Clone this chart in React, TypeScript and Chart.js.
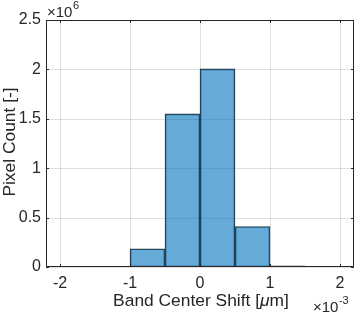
import React, { useEffect, useRef } from 'react';
import { Chart, registerables } from 'chart.js';
Chart.register(...registerables);

const binCenters = [-0.00075, -0.00025, 0.00025, 0.00075, 0.00125];
const pixelCounts = [185000, 1550000, 2005000, 410000, 13000];
const xTicks = [-0.002, -0.001, 0, 0.001, 0.002];
const yTicks = [0, 500000, 1000000, 1500000, 2000000, 2500000];
const xTitle = 'Band Center Shift [';
const yTitle = 'Pixel Count [-]';

const AX = '#262626';
const FONT = '"Liberation Sans", Arial, sans-serif';
const TICK = 16;
const LBL = 17.4;

const gridPlugin = {
  id: 'mgrid',
  beforeDatasetsDraw(chart: any) {
    const { ctx, chartArea: a, scales } = chart;
    ctx.save();
    ctx.strokeStyle = 'rgba(38,38,38,0.15)';
    ctx.lineWidth = 1;
    ctx.beginPath();
    xTicks.forEach((v) => {
      const p = Math.round(scales.x.getPixelForValue(v)) + 0.5;
      ctx.moveTo(p, a.top); ctx.lineTo(p, a.bottom);
    });
    yTicks.forEach((v) => {
      const p = Math.round(scales.y.getPixelForValue(v)) + 0.5;
      ctx.moveTo(a.left, p); ctx.lineTo(a.right, p);
    });
    ctx.stroke();
    ctx.restore();
  },
};

const decorPlugin = {
  id: 'decor',
  afterDraw(chart: any) {
    const { ctx, chartArea: a, scales } = chart;
    const xs = scales.x, ys = scales.y;
    ctx.save();
    ctx.strokeStyle = AX;
    ctx.lineWidth = 1;
    ctx.beginPath();
    ctx.rect(a.left + 0.5, a.top + 0.5, a.right - a.left - 1, a.bottom - a.top - 1);
    ctx.stroke();
    const tl = 3;
    ctx.beginPath();
    xTicks.forEach((v) => {
      const p = Math.round(xs.getPixelForValue(v)) + 0.5;
      ctx.moveTo(p, a.bottom); ctx.lineTo(p, a.bottom - tl);
      ctx.moveTo(p, a.top); ctx.lineTo(p, a.top + tl);
    });
    yTicks.forEach((v) => {
      const p = Math.round(ys.getPixelForValue(v)) + 0.5;
      ctx.moveTo(a.left, p); ctx.lineTo(a.left + tl, p);
      ctx.moveTo(a.right, p); ctx.lineTo(a.right - tl, p);
    });
    ctx.stroke();
    ctx.fillStyle = AX;
    ctx.textBaseline = 'alphabetic';
    ctx.textAlign = 'left';
    ctx.font = `15px ${FONT}`;
    ctx.fillText('\u00d710', 47, 17);
    const w1 = ctx.measureText('\u00d710').width;
    ctx.font = `11px ${FONT}`;
    ctx.fillText('6', 47 + w1 + 0.5, 9);
    ctx.font = `15px ${FONT}`;
    ctx.fillText('\u00d710', 313, 312);
    const w2 = ctx.measureText('\u00d710').width;
    ctx.font = `11px ${FONT}`;
    ctx.fillText('-3', 313 + w2 + 0.5, 304);
    // x title
    ctx.font = `${LBL}px ${FONT}`;
    const wA = ctx.measureText(xTitle).width;
    ctx.font = `italic ${LBL}px ${FONT}`;
    const wB = ctx.measureText('\u03bc').width;
    ctx.font = `${LBL}px ${FONT}`;
    const wC = ctx.measureText('m]').width;
    const total = wA + wB + wC;
    const x0 = 201 - total / 2;
    const yb = 306;
    ctx.fillText(xTitle, x0, yb);
    ctx.font = `italic ${LBL}px ${FONT}`;
    ctx.fillText('\u03bc', x0 + wA, yb);
    ctx.font = `${LBL}px ${FONT}`;
    ctx.fillText('m]', x0 + wA + wB, yb);
    // y title
    ctx.translate(15, 142);
    ctx.rotate(-Math.PI / 2);
    ctx.textAlign = 'center';
    ctx.fillText(yTitle, 0, 0);
    ctx.restore();
  },
};

export default function App() {
  const ref = useRef<HTMLCanvasElement>(null);
  useEffect(() => {
    document.body.style.margin = '0';
    const chart = new Chart(ref.current!, {
      type: 'bar',
      data: {
        datasets: [
          {
            data: binCenters.map((x, i) => ({ x, y: pixelCounts[i] })),
            backgroundColor: 'rgba(0,114,189,0.6)',
            borderColor: 'rgba(15,25,35,0.85)',
            borderWidth: 1,
            barPercentage: 1,
            categoryPercentage: 1,
            borderSkipped: false,
          },
        ],
      },
      options: {
        animation: false,
        responsive: false,
        maintainAspectRatio: false,
        layout: { padding: { top: 20, right: 3, left: 0, bottom: 0 } },
        plugins: { legend: { display: false }, tooltip: { enabled: false } },
        scales: {
          x: {
            type: 'linear',
            min: -0.0022,
            max: 0.0022,
            offset: false,
            afterBuildTicks: (s: any) => { s.ticks = xTicks.map((v) => ({ value: v })); },
            afterFit: (s: any) => { s.height = 47; },
            border: { display: false },
            grid: { display: false, drawTicks: false, offset: false },
            ticks: {
              color: AX,
              font: { family: FONT, size: TICK },
              padding: 7,
              maxRotation: 0,
              autoSkip: false,
              callback: (v: any) => String(Math.round(Number(v) * 1000)),
            },
          },
          y: {
            type: 'linear',
            min: 0,
            max: 2500000,
            afterBuildTicks: (s: any) => { s.ticks = yTicks.map((v) => ({ value: v })); },
            afterFit: (s: any) => { s.width = 46; },
            border: { display: false },
            grid: { display: false, drawTicks: false },
            ticks: {
              color: AX,
              font: { family: FONT, size: TICK },
              padding: 5,
              autoSkip: false,
              callback: (v: any) => String(Number(v) / 1e6),
            },
          },
        },
      },
      plugins: [gridPlugin, decorPlugin],
    });
    return () => chart.destroy();
  }, []);
  return (
    <div style={{ width: 357, height: 314 }}>
      <canvas ref={ref} width={357} height={314} style={{ display: 'block' }} />
    </div>
  );
}
